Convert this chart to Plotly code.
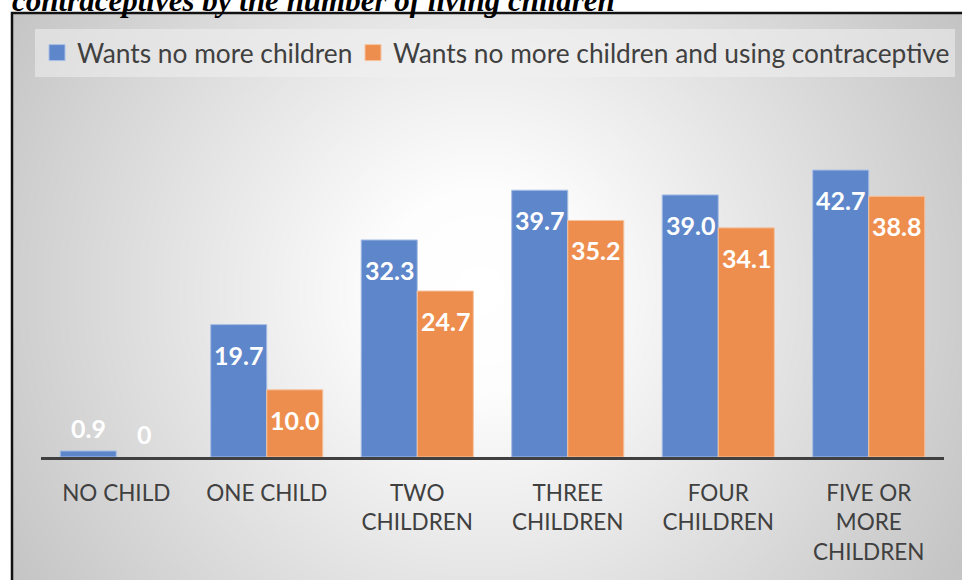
import numpy as np
import plotly.graph_objects as go

# ---------------- data ----------------
categories = ["NO CHILD", "ONE CHILD", "TWO<br>CHILDREN", "THREE<br>CHILDREN",
              "FOUR<br>CHILDREN", "FIVE OR<br>MORE<br>CHILDREN"]
wants_no_more = [0.9, 19.7, 32.3, 39.7, 39.0, 42.7]
wants_no_more_using = [0.0, 10.0, 24.7, 35.2, 34.1, 38.8]
series_names = ["Wants no more children",
                "Wants no more children and using contraceptive"]
title_text = "contraceptives by the number of living children"

# ---------------- style ----------------
W, H = 962, 580
BLUE = "#5E86CB"
BLUE_EDGE = "#A8BFE6"
ORANGE = "#EE8E4E"
ORANGE_EDGE = "#F6C4A0"
TXT = "#404040"
FONT = "Lato"

def px_x(p):
    return p / W

def px_y(p):
    return 1 - p / H

fig = go.Figure()

# background radial gradient (decoration) on its own axes, drawn first
gx = np.linspace(12, W, 80)
gy = np.linspace(13, H, 60)
XX, YY = np.meshgrid(gx, gy)
dist = np.sqrt(((XX - 480) / 480) ** 2 + ((YY - 290) / 480) ** 2)
fig.add_trace(go.Heatmap(
    x=gx, y=gy, z=dist, zmin=0, zmax=1.15, zsmooth="best",
    colorscale=[[0, "#ffffff"], [0.18, "#fdfdfd"], [1, "#c4c4c4"]],
    showscale=False, hoverinfo="skip", xaxis="x", yaxis="y",
))

# bars
for vals, nm, col, edge in [(wants_no_more, series_names[0], BLUE, BLUE_EDGE),
                            (wants_no_more_using, series_names[1], ORANGE, ORANGE_EDGE)]:
    fig.add_trace(go.Bar(
        x=categories, y=vals, name=nm, showlegend=False,
        marker=dict(color=col, line=dict(color=edge, width=[0 if v == 0 else 1 for v in vals])),
        xaxis="x2", yaxis="y2",
    ))

# legend entries (one legend per entry so each can be placed like the original)
for nm, col, edge, lg in [(series_names[0], BLUE, BLUE_EDGE, "legend"),
                          (series_names[1], ORANGE, ORANGE_EDGE, "legend2")]:
    fig.add_trace(go.Scatter(
        x=[None], y=[None], mode="markers", name=nm, legend=lg,
        marker=dict(symbol="square", size=16, color=col, line=dict(color=edge, width=1)),
        xaxis="x2", yaxis="y2",
    ))

# data labels
annotations = []
for vals, shift in [(wants_no_more, -28), (wants_no_more_using, 28)]:
    for cat, v in zip(categories, vals):
        txt = "0" if v == 0 else f"{v:.1f}"
        inside = v >= 5
        annotations.append(dict(
            x=cat, y=v, xref="x2", yref="y2", text=txt, showarrow=False,
            xshift=shift, yshift=-30 if inside else 23, yanchor="middle",
            font=dict(family=FONT, size=25, color="white", weight="bold"),
        ))

# cut-off title above the chart frame
annotations.append(dict(
    x=px_x(10), y=px_y(20), xref="paper", yref="paper", xanchor="left", yanchor="bottom",
    text="<b><i>" + title_text + "</i></b>", showarrow=False,
    font=dict(family="Liberation Serif", size=31, color="black"),
))

legend_common = dict(orientation="h", xanchor="left", yanchor="middle",
                     bgcolor="rgba(0,0,0,0)", itemsizing="trace",
                     font=dict(family=FONT, size=26.3, color=TXT))

fig.update_layout(
    width=W, height=H,
    margin=dict(l=0, r=0, t=0, b=0, autoexpand=False),
    paper_bgcolor="white",
    plot_bgcolor="rgba(0,0,0,0)",
    barmode="group", bargap=0.255, bargroupgap=0.0,
    xaxis=dict(domain=[px_x(12), 1], range=[12, W], visible=False, fixedrange=True),
    yaxis=dict(domain=[0, px_y(13)], range=[H, 13], visible=False, fixedrange=True),
    xaxis2=dict(domain=[px_x(41), px_x(944)], anchor="y2",
                showline=True, linecolor="#404040", linewidth=3,
                showgrid=False, ticks="", ticklabelstandoff=14,
                tickfont=dict(family=FONT, size=22.5, color=TXT)),
    yaxis2=dict(domain=[px_y(457), px_y(121)], anchor="x2", range=[0, 50],
                visible=False, showgrid=False, zeroline=False),
    legend=dict(x=px_x(37), y=px_y(53), **legend_common),
    legend2=dict(x=px_x(353), y=px_y(53), **legend_common),
    annotations=annotations,
    shapes=[
        dict(type="rect", xref="paper", yref="paper", layer="above",
             x0=px_x(35), x1=px_x(955), y0=px_y(77), y1=px_y(29),
             fillcolor="rgba(240,240,240,0.55)", line=dict(width=0)),
        dict(type="rect", xref="paper", yref="paper", layer="above",
             x0=px_x(12), x1=px_x(975), y0=px_y(595), y1=px_y(13),
             fillcolor="rgba(0,0,0,0)", line=dict(color="#111111", width=2.5)),
    ],
)

fig.write_html("out.html", config={"displayModeBar": False},
               post_script="document.body.style.margin='0px';")
